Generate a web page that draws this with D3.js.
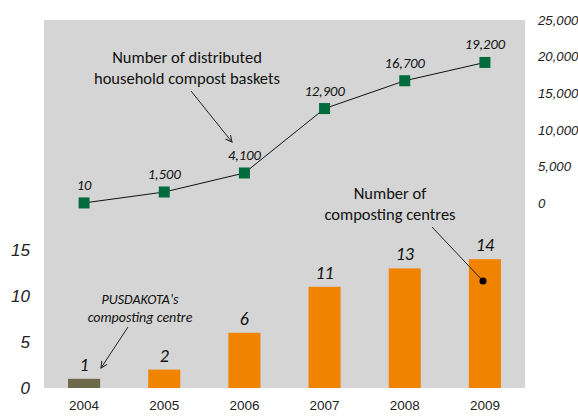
<!DOCTYPE html>
<html>
<head>
<meta charset="utf-8">
<script src="https://cdn.jsdelivr.net/npm/d3@7"></script>
<style>
  html, body { margin: 0; padding: 0; background: #fff; }
  svg { display: block; font-family: Carlito, Lato, "Open Sans", sans-serif; }
</style>
</head>
<body>
<div id="chart"></div>
<script>
// ── Data ────────────────────────────────────────────────────────────────────
const years = ['2004', '2005', '2006', '2007', '2008', '2009'];
const centres = [1, 2, 6, 11, 13, 14];            // composting centres (bars)
const baskets = [10, 1500, 4100, 12900, 16700, 19200]; // compost baskets (line)
const leftTicks = [0, 5, 10, 15];
const rightTicks = [0, 5000, 10000, 15000, 20000, 25000];

// ── Layout ──────────────────────────────────────────────────────────────────
const WIDTH = 578, HEIGHT = 419;
const PLOT = { left: 44, right: 525, top: 20, bottom: 388 };
const ORANGE = '#f08400', OLIVE = '#6c6848', GREEN = '#006b3c', PANEL = '#d4d5d4';

const svg = d3.select('#chart').append('svg').attr('width', WIDTH).attr('height', HEIGHT);

const x = d3.scaleBand().domain(years).range([PLOT.left, PLOT.right])
  .paddingInner(0.6).paddingOuter(0.3);
const yBar = d3.scaleLinear().domain([0, 40]).range([PLOT.bottom, PLOT.top]);
const yLine = d3.scaleLinear().domain([0, 25000]).range([203, PLOT.top]);
const cx = year => x(year) + x.bandwidth() / 2;

svg.append('defs').append('marker')
  .attr('id', 'arrow').attr('viewBox', '0 0 10 10').attr('refX', 9).attr('refY', 5)
  .attr('markerWidth', 8).attr('markerHeight', 8).attr('orient', 'auto')
  .append('path').attr('d', 'M1,1 L9,5 L1,9').attr('fill', 'none')
  .attr('stroke', '#222').attr('stroke-width', 1.3);

// grey panel
svg.append('rect')
  .attr('x', PLOT.left).attr('y', PLOT.top)
  .attr('width', PLOT.right - PLOT.left).attr('height', PLOT.bottom - PLOT.top)
  .attr('fill', PANEL);

// ── Axes ────────────────────────────────────────────────────────────────────
const leftAxis = svg.append('g').attr('transform', `translate(${PLOT.left - 14},0)`)
  .call(d3.axisLeft(yBar).tickValues(leftTicks).tickSize(0).tickPadding(0));
leftAxis.select('.domain').remove();
leftAxis.selectAll('text').attr('font-size', 17).attr('font-style', 'italic')
  .attr('fill', '#222').attr('font-family', null);

const rightAxis = svg.append('g').attr('transform', `translate(${PLOT.right + 13},0)`)
  .call(d3.axisRight(yLine).tickValues(rightTicks).tickSize(0).tickPadding(0)
    .tickFormat(d3.format(',')));
rightAxis.select('.domain').remove();
rightAxis.selectAll('text').attr('font-size', 13.2).attr('font-style', 'italic')
  .attr('fill', '#222').attr('font-family', null);

const bottomAxis = svg.append('g').attr('transform', `translate(0,${PLOT.bottom})`)
  .call(d3.axisBottom(x).tickSize(0).tickPadding(12));
bottomAxis.select('.domain').remove();
bottomAxis.selectAll('text').attr('font-size', 13.5).attr('fill', '#222').attr('font-family', null);

// ── Bars ────────────────────────────────────────────────────────────────────
svg.selectAll('rect.bar').data(years).join('rect')
  .attr('class', 'bar')
  .attr('x', d => x(d)).attr('width', x.bandwidth())
  .attr('y', (d, i) => yBar(centres[i]))
  .attr('height', (d, i) => PLOT.bottom - yBar(centres[i]))
  .attr('fill', (d, i) => i === 0 ? OLIVE : ORANGE);

svg.selectAll('text.bar-label').data(years).join('text')
  .attr('class', 'bar-label')
  .attr('x', d => cx(d)).attr('y', (d, i) => yBar(centres[i]) - 8)
  .attr('text-anchor', 'middle').attr('font-size', 18).attr('font-style', 'italic')
  .attr('fill', '#111').text((d, i) => centres[i]);

// ── Line ────────────────────────────────────────────────────────────────────
const line = d3.line().x(d => cx(d)).y((d, i) => yLine(baskets[i]));
svg.append('path').datum(years).attr('d', line)
  .attr('fill', 'none').attr('stroke', '#111').attr('stroke-width', 1);

const MARK = 11;
svg.selectAll('rect.marker').data(years).join('rect')
  .attr('class', 'marker')
  .attr('x', d => cx(d) - MARK / 2).attr('y', (d, i) => yLine(baskets[i]) - MARK / 2)
  .attr('width', MARK).attr('height', MARK).attr('fill', GREEN);

svg.selectAll('text.line-label').data(years).join('text')
  .attr('class', 'line-label')
  .attr('x', d => cx(d)).attr('y', (d, i) => yLine(baskets[i]) - 13)
  .attr('text-anchor', 'middle').attr('font-size', 14.5).attr('font-style', 'italic')
  .attr('fill', '#111').text((d, i) => d3.format(',')(baskets[i]));

// ── Annotations ─────────────────────────────────────────────────────────────
function multiline(lines, tx, ty, size, italic, gap) {
  const t = svg.append('text').attr('x', tx).attr('y', ty).attr('text-anchor', 'middle')
    .attr('font-size', size).attr('fill', '#111')
    .attr('font-style', italic ? 'italic' : 'normal');
  lines.forEach((s, i) => t.append('tspan').attr('x', tx).attr('dy', i ? gap : 0).text(s));
}

multiline(['Number of distributed', 'household compost baskets'], 187, 63, 16.5, false, 21);
svg.append('line').attr('x1', 191).attr('y1', 91).attr('x2', 232).attr('y2', 142)
  .attr('stroke', '#222').attr('stroke-width', 1).attr('marker-end', 'url(#arrow)');

multiline(['Number of', 'composting centres'], 390, 199, 16.5, false, 21);
svg.append('line').attr('x1', 432).attr('y1', 227).attr('x2', 483).attr('y2', 281)
  .attr('stroke', '#222').attr('stroke-width', 1);
svg.append('circle').attr('cx', 483).attr('cy', 281).attr('r', 3.5).attr('fill', '#000');

multiline(["PUSDAKOTA's", 'composting centre'], 140, 304, 14, true, 18);
svg.append('line').attr('x1', 128).attr('y1', 327).attr('x2', 101).attr('y2', 368)
  .attr('stroke', '#222').attr('stroke-width', 1).attr('marker-end', 'url(#arrow)');
</script>
</body>
</html>
